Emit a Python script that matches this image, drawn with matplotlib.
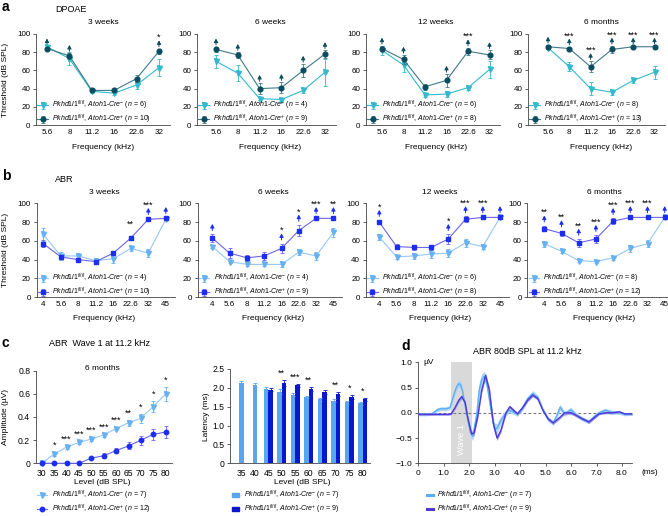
import numpy as np
import matplotlib
matplotlib.use('Agg')
import matplotlib.pyplot as plt
from matplotlib.lines import Line2D
from matplotlib.patches import Patch

plt.rcParams['font.family'] = ['Liberation Sans', 'DejaVu Sans']
plt.rcParams['mathtext.fontset'] = 'custom'
plt.rcParams['mathtext.rm'] = 'Liberation Sans'
plt.rcParams['mathtext.it'] = 'Liberation Sans:italic'
plt.rcParams['mathtext.bf'] = 'Liberation Sans:bold'

# ---------------- data ----------------
dp_freqs = ['5.6', '8', '11.2', '16', '22.6', '32']
abr_freqs = ['4', '5.6', '8', '11.2', '16', '22.6', '32', '45']
ages = ['3 weeks', '6 weeks', '12 weeks', '6 months']

# DPOAE thresholds (dB SPL)
dp_lo = [[86, 73, 37, 35, 44, 63], [70, 57, 29, 28, 38, 58],
         [82, 66, 33, 34, 41, 61], [85, 64, 40, 36, 49, 58]]
dp_lo_err = [[2, 7, 2, 2, 4, 9], [7, 9, 2, 2, 3, 15],
             [5, 8, 2, 3, 2, 9], [2, 5, 7, 3, 3, 7]]
dp_hi = [[84, 76, 38, 38, 51, 81], [83, 77, 40, 41, 60, 78],
         [84, 72, 42, 49, 81, 77], [86, 84, 64, 83, 86, 86]]
dp_hi_err = [[2, 3, 2, 2, 4, 3], [3, 3, 6, 6, 7, 4],
             [3, 5, 3, 7, 4, 5], [2, 2, 6, 4, 1, 1]]
dp_arrows = [[1, 1, 0, 0, 0, 1], [1, 1, 1, 1, 1, 1],
             [1, 1, 0, 1, 1, 1], [1, 1, 1, 1, 1, 1]]
dp_stars = [['', '', '', '', '', '*'], ['', '', '', '', '', ''],
            ['', '', '', '', '***', ''], ['', '***', '***', '***', '***', '***']]
dp_n_lo = [6, 4, 6, 8]
dp_n_hi = [10, 9, 8, 13]

# ABR thresholds (dB SPL)
abr_lo = [[67, 44, 44, 39, 41, 52, 47, 83], [54, 38, 35, 35, 35, 48, 44, 69],
          [64, 43, 44, 46, 47, 58, 54, 85], [57, 49, 39, 38, 42, 52, 57, 85]]
abr_lo_err = [[7, 4, 3, 3, 5, 3, 4, 1], [2, 1, 2, 2, 3, 3, 4, 5],
              [3, 2, 3, 4, 4, 4, 3, 1], [3, 2, 1, 1, 2, 4, 4, 1]]
abr_hi = [[57, 43, 40, 38, 47, 63, 83, 84], [63, 47, 42, 44, 52, 71, 84, 84],
          [80, 54, 53, 53, 62, 83, 85, 85], [73, 68, 58, 62, 81, 85, 85, 85]]
abr_hi_err = [[4, 2, 2, 2, 1, 1, 1, 1], [4, 5, 3, 4, 5, 6, 1, 1],
              [2, 3, 3, 3, 5, 3, 1, 1], [3, 3, 4, 4, 3, 1, 1, 1]]
abr_arrows = [[0, 0, 0, 0, 0, 0, 1, 1], [1, 0, 0, 0, 1, 1, 1, 1],
              [1, 0, 0, 0, 1, 1, 1, 1], [1, 1, 1, 1, 1, 1, 1, 1]]
abr_stars = [['', '', '', '', '', '**', '***', ''], ['', '', '', '', '*', '*', '***', '**'],
             ['*', '', '', '', '*', '***', '***', ''], ['**', '**', '**', '***', '***', '***', '***', '']]
abr_n_lo = [4, 4, 6, 8]
abr_n_hi = [10, 9, 8, 12]

# wave 1 amplitude (uV)
amp_levels = ['30', '35', '40', '45', '50', '55', '60', '65', '70', '75', '80']
amp_lo = [0.0, 0.08, 0.14, 0.18, 0.21, 0.245, 0.30, 0.35, 0.39, 0.49, 0.60]
amp_lo_err = [0.005, 0.02, 0.015, 0.015, 0.02, 0.015, 0.015, 0.025, 0.04, 0.05, 0.06]
amp_hi = [0.0, 0.0, 0.0, 0.0, 0.045, 0.065, 0.11, 0.15, 0.20, 0.25, 0.27]
amp_hi_err = [0, 0, 0, 0, 0.012, 0.02, 0.02, 0.03, 0.04, 0.045, 0.05]
amp_stars = ['', '*', '***', '***', '***', '***', '***', '**', '*', '*', '*']

# wave 1 latency (ms)
lat_levels = ['35', '40', '45', '50', '55', '60', '65', '70', '75', '80']
lat_lo = [2.12, 2.08, 1.97, 1.90, 1.82, 1.76, 1.70, 1.66, 1.62, 1.59]
lat_lo_err = [0.05, 0.06, 0.04, 0.06, 0.04, 0.03, 0.04, 0.04, 0.04, 0.04]
lat_hi = [np.nan, np.nan, 1.95, 2.13, 2.07, 1.97, 1.89, 1.83, 1.76, 1.70]
lat_hi_err = [np.nan, np.nan, 0.04, 0.07, 0.04, 0.04, 0.06, 0.05, 0.05, 0.04]
lat_stars = ['', '', '', '**', '***', '**', '', '**', '*', '*']

# averaged ABR waveform at 80 dB SPL (uV)
wave_t_lo = [0, 0.3, 0.55, 0.65, 0.75, 0.9, 1.1, 1.25, 1.4, 1.5, 1.6, 1.68, 1.75, 1.9, 2.05, 2.15,
             2.3, 2.4, 2.5, 2.6, 2.7, 2.85, 3.0, 3.1, 3.25, 3.4, 3.55, 3.7, 3.9, 4.1, 4.3, 4.5,
             4.7, 4.9, 5.1, 5.3, 5.45, 5.57, 5.75, 6.0, 6.2, 6.45, 6.7, 6.9, 7.1, 7.35, 7.6,
             7.9, 8.1, 8.4]
wave_lo = [-0.03, -0.03, -0.02, 0.02, 0.06, 0.08, 0.08, 0.1, 0.35, 0.5, 0.58, 0.55, 0.42, 0.0,
           -0.38, -0.46, -0.05, 0.45, 0.66, 0.72, 0.58, 0.1, -0.32, -0.31, -0.15, -0.04, 0.05,
           0.03, -0.03, 0.1, 0.28, 0.38, 0.3, 0.05, -0.12, -0.2, -0.05, 0.11, -0.02, 0.06,
           -0.04, -0.12, -0.18, -0.08, 0.0, 0.05, 0.01, 0.0, -0.03, -0.02]
wave_lo_err = [0.03, 0.03, 0.03, 0.03, 0.04, 0.04, 0.04, 0.04, 0.06, 0.07, 0.07, 0.07, 0.06, 0.06,
               0.08, 0.09, 0.12, 0.15, 0.12, 0.1, 0.1, 0.12, 0.12, 0.1, 0.08, 0.06, 0.05, 0.05,
               0.04, 0.05, 0.05, 0.06, 0.05, 0.05, 0.05, 0.05, 0.05, 0.06, 0.05, 0.05, 0.04,
               0.04, 0.04, 0.04, 0.04, 0.04, 0.04, 0.03, 0.03, 0.03]
wave_t_hi = [0, 0.5, 1.0, 1.2, 1.3, 1.45, 1.6, 1.72, 1.85, 1.95, 2.1, 2.2, 2.35, 2.5, 2.65, 2.8,
             2.95, 3.1, 3.25, 3.45, 3.6, 3.75, 3.9, 4.1, 4.3, 4.5, 4.7, 4.9, 5.1, 5.3, 5.5,
             5.75, 6.0, 6.2, 6.45, 6.7, 6.9, 7.1, 7.35, 7.6, 7.9, 8.1, 8.4]
wave_hi = [-0.03, -0.03, -0.03, -0.03, -0.02, 0.1, 0.25, 0.32, 0.2, -0.1, -0.42, -0.4, -0.05,
           0.45, 0.74, 0.45, -0.2, -0.5, -0.35, 0.0, 0.12, 0.05, -0.02, 0.1, 0.25, 0.35, 0.28,
           0.05, -0.12, -0.2, -0.12, 0.0, 0.0, -0.05, -0.12, -0.18, -0.1, -0.02, 0.0, 0.0,
           0.02, -0.02, -0.02]
wave_hi_err = [0.02, 0.02, 0.02, 0.02, 0.02, 0.03, 0.04, 0.04, 0.04, 0.04, 0.05, 0.05, 0.05,
               0.05, 0.05, 0.05, 0.05, 0.05, 0.04, 0.03, 0.03, 0.03, 0.03, 0.03, 0.03, 0.03,
               0.03, 0.03, 0.03, 0.03, 0.03, 0.03, 0.03, 0.03, 0.03, 0.03, 0.03, 0.02, 0.02,
               0.02, 0.02, 0.02, 0.02]

# colours
a_lo, a_hi, a_hi_line = '#33b9cc', '#0b4c5f', '#3f7a8a'
b_lo, b_lo_line, b_hi, b_hi_line = '#66b1f2', '#95c8f5', '#1b2ef2', '#6d64e8'
bar_lo, bar_hi = '#57a6f2', '#0a17cf'
d_lo, d_lo_band, d_hi, d_hi_band = '#5aaef5', '#a9d3fa', '#4b3ad9', '#8b80e6'

W, H = 668, 516
fig = plt.figure(figsize=(W / 100, H / 100), dpi=100)


def add_ax(left, top, right, bottom):
    return fig.add_axes([left / W, 1 - bottom / H, (right - left) / W, (bottom - top) / H])


def cat_ax(left, tick0, step, n, top, bottom):
    x0 = -(tick0 - left) / step
    right = left + (n - 0.5 - x0) * step
    ax = add_ax(left, top, right, bottom)
    ax.set_xlim(x0, n - 0.5)
    return ax


def ftext(x, y, s, **kw):
    fig.text(x / W, 1 - y / H, s, **kw)


def style(ax, xtick_len=0, size=5.8):
    for s in ['top', 'right']:
        ax.spines[s].set_visible(False)
    for s in ['left', 'bottom']:
        ax.spines[s].set_linewidth(0.6)
        ax.spines[s].set_color('#444444')
    ax.tick_params(axis='both', labelsize=size, width=0.6, color='#444444', pad=2)
    ax.tick_params(axis='y', length=2)
    ax.tick_params(axis='x', length=xtick_len, pad=3)


def lab(sign, n):
    return (r'$\mathit{Pkhd1l1}^{\mathit{fl/fl}}$, $\mathit{Atoh1}$-$\mathit{Cre}^{' + sign +
            r'}$ ($\mathit{n}$ = ' + str(n) + ')')


def thr_panel(ax, freqs, lo, lo_e, hi, hi_e, arrows, stars, mk_hi, c_lo, c_lo_line,
              c_hi, c_hi_line, n_lo, n_hi, gap, leg_y):
    x = np.arange(len(freqs))
    ax.errorbar(x, lo, yerr=lo_e, color=c_lo_line, marker='v', mfc=c_lo, mec=c_lo, ms=3.6,
                lw=0.8, elinewidth=0.6, capsize=1.2, capthick=0.6, ecolor=c_lo,
                label=lab('-', n_lo), zorder=3)
    ax.errorbar(x, hi, yerr=hi_e, color=c_hi_line, marker=mk_hi, mfc=c_hi, mec=c_hi, ms=3.4,
                lw=0.8, elinewidth=0.6, capsize=1.2, capthick=0.6, ecolor=c_hi_line,
                label=lab('+', n_hi), zorder=4)
    for i in range(len(x)):
        top = hi[i] + hi_e[i] + gap
        if arrows[i]:
            ax.annotate('', xy=(i, top + 7), xytext=(i, top), annotation_clip=False,
                        arrowprops=dict(arrowstyle='-|>,head_width=0.12,head_length=0.22',
                                        color=c_hi, lw=0.7, shrinkA=0, shrinkB=0))
        if stars[i]:
            ax.text(i, top + 10, stars[i], ha='center', va='center', fontsize=6.5)
    ax.set_ylim(0, 100)
    ax.set_yticks(range(0, 101, 20))
    ax.set_xticks(x)
    ax.set_xticklabels(freqs)
    style(ax)
    ax.legend(loc='lower left', bbox_to_anchor=(0.01, leg_y), frameon=False, fontsize=5,
              handlelength=1.5, handletextpad=0.6, labelspacing=0.1, borderpad=0,
              borderaxespad=0)


# ---------------- a: DPOAE ----------------
a_geo = [(36, 47, 22.4), (197, 216, 21.8), (366, 382, 21.5), (528, 548, 21.3)]
for k in range(4):
    left, t0, st = a_geo[k]
    ax = cat_ax(left, t0, st, 6, 34, 125)
    thr_panel(ax, dp_freqs, dp_lo[k], dp_lo_err[k], dp_hi[k], dp_hi_err[k], dp_arrows[k],
              dp_stars[k], 'o', a_lo, a_lo, a_hi, a_hi_line, dp_n_lo[k], dp_n_hi[k], 2, -0.015)
    ftext(t0 + 2.5 * st, 22, ages[k], ha='center', va='center', fontsize=6)
    ftext(t0 + 2.5 * st, 147, 'Frequency (kHz)', ha='center', va='center', fontsize=6)
ftext(6, 80, 'Threshold (dB SPL)', rotation=90, ha='center', va='center', fontsize=6)
ftext(2, 7, 'a', fontsize=10, fontweight='bold', ha='left', va='center')
ftext(55, 9, 'DPOAE', fontsize=6.5, ha='left', va='center')

# ---------------- b: ABR ----------------
b_geo = [(36.5, 43.3, 17.5), (197.5, 212.3, 17.3), (365.7, 379.3, 17.25), (527.3, 544.3, 17.2)]
for k in range(4):
    left, t0, st = b_geo[k]
    ax = cat_ax(left, t0, st, 8, 203.3, 297.3)
    thr_panel(ax, abr_freqs, abr_lo[k], abr_lo_err[k], abr_hi[k], abr_hi_err[k], abr_arrows[k],
              abr_stars[k], 's', b_lo, b_lo_line, b_hi, b_hi_line, abr_n_lo[k], abr_n_hi[k], 4,
              -0.02)
    ftext(t0 + 3.5 * st, 193, ages[k], ha='center', va='center', fontsize=6)
    ftext(t0 + 3.5 * st, 318, 'Frequency (kHz)', ha='center', va='center', fontsize=6)
ftext(6, 250, 'Threshold (dB SPL)', rotation=90, ha='center', va='center', fontsize=6)
ftext(2, 176, 'b', fontsize=10, fontweight='bold', ha='left', va='center')
ftext(55, 180, 'ABR', fontsize=6.5, ha='left', va='center')

# ---------------- c: wave 1 amplitude ----------------
ax = cat_ax(35.7, 41.7, 12.4, 11, 370.7, 463.3)
x = np.arange(len(amp_levels))
ax.errorbar(x, amp_lo, yerr=amp_lo_err, color=b_lo_line, marker='v', mfc=b_lo, mec=b_lo,
            ms=3.6, lw=0.8, elinewidth=0.6, capsize=1.2, capthick=0.6, ecolor=b_lo,
            zorder=3, clip_on=False)
ax.errorbar(x, amp_hi, yerr=amp_hi_err, color=b_hi_line, marker='o', mfc=b_hi, mec=b_hi,
            ms=3.2, lw=0.8, elinewidth=0.6, capsize=1.2, capthick=0.6, ecolor=b_hi_line,
            zorder=4, clip_on=False)
for i in range(len(x)):
    if amp_stars[i]:
        ax.text(i, amp_lo[i] + amp_lo_err[i] + 0.055, amp_stars[i], ha='center', va='center',
                fontsize=6.5)
ax.set_ylim(0, 0.8)
ax.set_yticks([0, 0.2, 0.4, 0.6, 0.8])
ax.set_yticklabels(['0', '0.2', '0.4', '0.6', '0.8'])
ax.set_xticks(x)
ax.set_xticklabels(amp_levels)
style(ax, size=6.2)
ax.tick_params(axis='x', pad=4)
ftext(102, 483, 'Level (dB SPL)', ha='center', va='center', fontsize=6)
ftext(102, 369, '6 months', ha='center', va='center', fontsize=6)
ftext(6, 417, 'Amplitude (\u00b5V)', rotation=90, ha='center', va='center', fontsize=6)
h1 = Line2D([], [], color=b_lo_line, marker='v', mfc=b_lo, mec=b_lo, ms=3.6, lw=0.8)
h2 = Line2D([], [], color=b_hi_line, marker='o', mfc=b_hi, mec=b_hi, ms=3.2, lw=0.8)
leg_top = 1 - 489 / H
fig.legend([h1, h2], [lab('-', 7), lab('+', 12)], loc='upper left',
           bbox_to_anchor=(37 / W, leg_top), frameon=False, fontsize=5, handlelength=1.5,
           handletextpad=0.6, labelspacing=0.0, borderpad=0, borderaxespad=0)
ftext(2, 343, 'c', fontsize=10, fontweight='bold', ha='left', va='center')
ftext(49, 343, 'ABR  Wave 1 at 11.2 kHz', fontsize=6.5, ha='left', va='center')

# ---------------- c: wave 1 latency ----------------
ax = cat_ax(230, 241.3, 13.5, 10, 369, 463.3)
x = np.arange(len(lat_levels))
bw = 0.33
for i in range(len(x)):
    both = not np.isnan(lat_hi[i])
    xl = i - bw / 2 if both else i
    ax.bar(xl, lat_lo[i], bw, color=bar_lo, yerr=lat_lo_err[i], ecolor=bar_lo,
           error_kw=dict(elinewidth=0.6, capsize=1.2, capthick=0.6))
    if both:
        ax.bar(i + bw / 2, lat_hi[i], bw, color=bar_hi, yerr=lat_hi_err[i], ecolor=bar_hi,
               error_kw=dict(elinewidth=0.6, capsize=1.2, capthick=0.6))
    if lat_stars[i]:
        ax.text(i, np.nanmax([lat_hi[i] + lat_hi_err[i], lat_lo[i] + lat_lo_err[i]]) + 0.18,
                lat_stars[i], ha='center', va='center', fontsize=6.5)
ax.set_ylim(0, 2.5)
ax.set_yticks([0, 0.5, 1.0, 1.5, 2.0, 2.5])
ax.set_yticklabels(['0', '0.5', '1.0', '1.5', '2.0', '2.5'])
ax.set_xticks(x)
ax.set_xticklabels(lat_levels)
style(ax, size=6.2)
ax.tick_params(axis='x', pad=4)
ftext(302, 483, 'Level (dB SPL)', ha='center', va='center', fontsize=6)
ftext(207, 417, 'Latency (ms)', rotation=90, ha='center', va='center', fontsize=6)
fig.legend([Patch(color=bar_lo), Patch(color=bar_hi)], [lab('-', 7), lab('+', 9)],
           loc='upper left', bbox_to_anchor=(232 / W, leg_top), frameon=False, fontsize=5,
           handlelength=1.0, handleheight=0.5, handletextpad=0.8, labelspacing=0.0,
           borderpad=0, borderaxespad=0)

# ---------------- d: ABR waveform ----------------
ax = add_ax(418, 362.3, 418 + 8.4 * 25.5, 463.3)
ax.axvspan(1.3, 2.1, color='#d9d9d9', lw=0, zorder=0)
ax.text(1.7, -0.52, 'Wave 1', rotation=90, color='white', fontsize=6.7, ha='center',
        va='center', zorder=1)
ax.plot([0, 8.4], [0, 0], color='#777777', lw=0.8, ls=(0, (2.5, 2)), zorder=1)
tl, vl, el = np.array(wave_t_lo), np.array(wave_lo), np.array(wave_lo_err)
th, vh, eh = np.array(wave_t_hi), np.array(wave_hi), np.array(wave_hi_err)
ax.fill_between(tl, vl - el, vl + el, color=d_lo_band, lw=0, alpha=0.9, zorder=2)
ax.fill_between(th, vh - eh, vh + eh, color=d_hi_band, lw=0, alpha=0.8, zorder=3)
ax.plot(tl, vl, color=d_lo, lw=1.0, zorder=4)
ax.plot(th, vh, color=d_hi, lw=1.0, zorder=5)
ax.set_xlim(0, 8.4)
ax.set_ylim(-1, 1)
ax.set_yticks([-1, -0.5, 0, 0.5, 1])
ax.set_yticklabels(['\u22121.0', '\u22120.5', '0.0', '0.5', '1.0'])
ax.set_xticks(range(9))
ax.set_xticklabels(['0'] + ['%.1f' % v for v in range(1, 9)])
style(ax, xtick_len=2, size=6)
ax.text(0.2, 1.0, '\u00b5V', fontsize=6, ha='left', va='center')
ax.text(8.75, -1.19, '(ms)', fontsize=6, ha='left', va='center')
ftext(401, 346, 'd', fontsize=10, fontweight='bold', ha='left', va='center')
ftext(527, 351, 'ABR 80dB SPL at 11.2 kHz', fontsize=6.5, ha='center', va='center')
fig.legend([Line2D([], [], color=d_lo, lw=2.2), Line2D([], [], color=d_hi, lw=2.2)],
           [lab('-', 7), lab('+', 9)], loc='upper left', bbox_to_anchor=(427 / W, leg_top),
           frameon=False, fontsize=5, handlelength=0.9, handletextpad=0.5, labelspacing=0.0,
           borderpad=0, borderaxespad=0)

fig.savefig('out.png', dpi=100)
